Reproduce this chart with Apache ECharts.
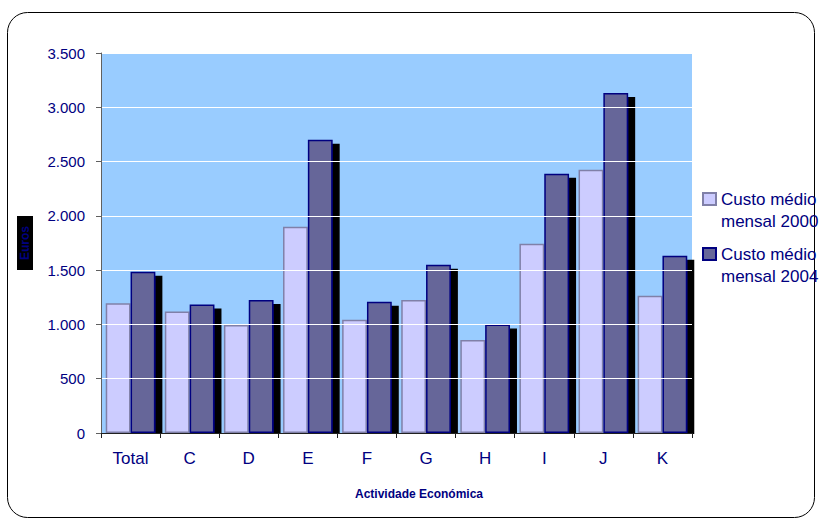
<!DOCTYPE html>
<html>
<head>
<meta charset="utf-8">
<title>Custo médio mensal por actividade económica</title>
<script src="https://cdn.jsdelivr.net/npm/echarts@6/dist/echarts.min.js"></script>
<style>
  html, body { margin: 0; padding: 0; background: #ffffff; }
  #chart { width: 823px; height: 523px; }
</style>
</head>
<body>
<div id="chart"></div>
<script>
// Economic activity sections
const categories = ['Total', 'C', 'D', 'E', 'F', 'G', 'H', 'I', 'J', 'K'];

// Average monthly cost (euros)
const cost2000 = [1195, 1118, 995, 1900, 1042, 1226, 857, 1743, 2425, 1263];
const cost2004 = [1485, 1183, 1226, 2700, 1208, 1549, 1000, 2388, 3132, 1632];

const seriesNames = ['Custo médio mensal 2000', 'Custo médio mensal 2004'];

// Value axis range
const yMin = 0;
const yMax = 3500;
const yStep = 500;

const FONT = "'Liberation Sans', Arial, sans-serif";
const NAVY = '#000080';

// thousands separator as a dot: 3500 -> 3.500
function fmt(v) {
  return String(v).replace(/\B(?=(\d{3})+(?!\d))/g, '.');
}

// svg renderer: the drop shadow is applied to the whole bar (fill + border)
const chart = echarts.init(document.getElementById('chart'), null, { renderer: 'svg' });

chart.setOption({
  backgroundColor: '#ffffff',
  animation: false,
  textStyle: { fontFamily: FONT, color: NAVY },
  graphic: [
    {
      type: 'rect',
      silent: true,
      z: -10,
      shape: { x: 7.5, y: 12.5, width: 807, height: 505, r: 20 },
      style: { fill: 'none', stroke: '#000000', lineWidth: 1 }
    },
    {
      // keeps bar shadows from spilling below the category axis
      type: 'rect',
      silent: true,
      z: 5,
      shape: { x: 110, y: 434, width: 600, height: 8 },
      style: { fill: '#ffffff' }
    }
  ],
  grid: {
    left: 101, top: 53, right: 131, bottom: 90,
    show: true,
    backgroundColor: '#99CCFF',
    borderWidth: 0
  },
  legend: {
    orient: 'vertical',
    left: 702,
    top: 166,
    padding: 0,
    itemGap: -11,
    itemWidth: 13,
    itemHeight: 12,
    icon: 'rect',
    data: seriesNames,
    formatter: name => '\n' + name.replace(' mensal', '\nmensal'),
    textStyle: { fontFamily: FONT, fontSize: 17, color: NAVY, lineHeight: 22 },
    itemStyle: { shadowColor: 'transparent', shadowOffsetX: 0, shadowOffsetY: 0, shadowBlur: 0 }
  },
  xAxis: {
    type: 'category',
    data: categories,
    z: 10,
    name: 'Actividade Económica',
    nameLocation: 'middle',
    nameGap: 55,
    nameTextStyle: {
      fontFamily: FONT, fontSize: 12, fontWeight: 'bold', color: NAVY,
      padding: [0, 0, 0, 45]
    },
    axisLine: { lineStyle: { color: '#202020', width: 1 } },
    axisTick: { show: true, length: 5, lineStyle: { color: '#202020' } },
    axisLabel: { fontFamily: FONT, fontSize: 17, color: NAVY, margin: 17 },
    splitLine: { show: false }
  },
  yAxis: {
    type: 'value',
    min: yMin,
    max: yMax,
    interval: yStep,
    z: 10,
    name: 'Euros',
    nameLocation: 'middle',
    nameRotate: 90,
    nameGap: 68,
    nameTextStyle: {
      fontFamily: FONT, fontSize: 12, fontWeight: 'bold', color: NAVY,
      backgroundColor: '#000000', lineHeight: 14, padding: [1, 10, 1, 10]
    },
    axisLine: { show: true, lineStyle: { color: '#606060', width: 1 } },
    axisTick: { show: true, length: 5, lineStyle: { color: '#606060' } },
    axisLabel: { fontFamily: FONT, fontSize: 15, color: NAVY, margin: 16, formatter: fmt },
    splitLine: { show: true, lineStyle: { color: '#ffffff', width: 1 } }
  },
  series: [
    {
      name: seriesNames[0],
      type: 'bar',
      data: cost2000,
      barWidth: '42%',
      barGap: '0%',
      itemStyle: { color: '#CCCCFF', borderColor: '#8080A8', borderWidth: 1.5 }
    },
    {
      name: seriesNames[1],
      type: 'bar',
      data: cost2004,
      barWidth: '42%',
      barGap: '0%',
      itemStyle: {
        color: '#666699', borderColor: NAVY, borderWidth: 1.5,
        shadowColor: '#000000', shadowBlur: 0, shadowOffsetX: 7, shadowOffsetY: 4
      }
    }
  ]
});
</script>
</body>
</html>
